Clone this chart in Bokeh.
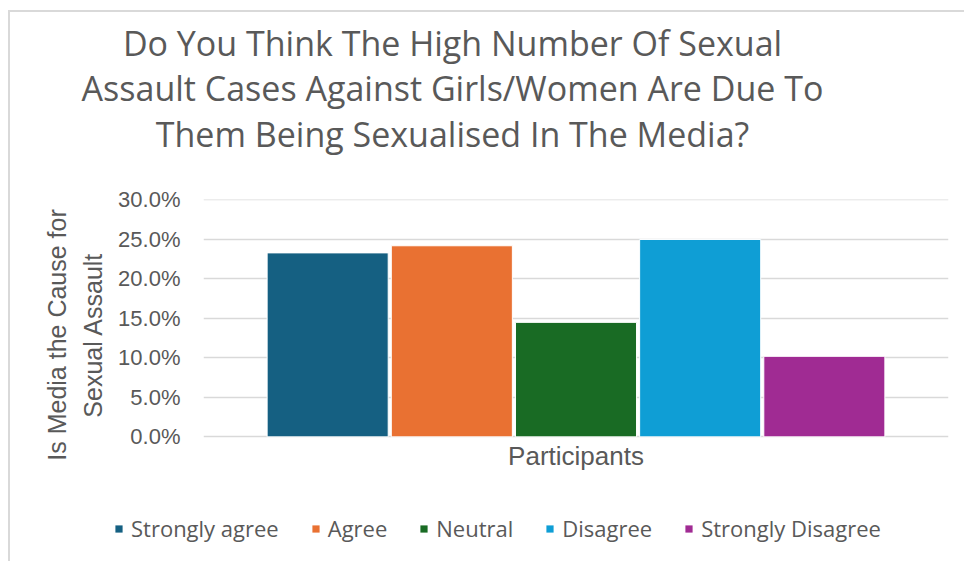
from bokeh.plotting import figure
from bokeh.models import (ColumnDataSource, FactorRange, Range1d, NumeralTickFormatter, Label,
                          Legend, LegendItem, FixedTicker)
from bokeh.embed import file_html
from bokeh.resources import INLINE

# ---- data ----
categories = ["Strongly agree", "Agree", "Neutral", "Disagree", "Strongly Disagree"]
values = [0.233, 0.242, 0.145, 0.250, 0.102]
colors = ["#156082", "#E97132", "#196B24", "#0F9ED5", "#A02B93"]
y_ticks = [0.0, 0.05, 0.10, 0.15, 0.20, 0.25, 0.30]
title_lines = ["Do You Think The High Number Of Sexual",
               "Assault Cases Against Girls/Women Are Due To",
               "Them Being Sexualised In The Media?"]
y_title = "Is Media the Cause for\nSexual Assault"
x_title = "Participants"

TEXT = "#595959"
GRID = "#d9d9d9"
BORDER = "2px solid #d9d9d9"
TITLE_FONT = "Open Sans"
AXIS_FONT = "Liberation Sans"

source = ColumnDataSource(dict(cat=categories, val=values, color=colors))


def blank(height):
    f = figure(width=956, height=height, x_range=(0, 1), y_range=(10, 11),
               x_axis_type=None, y_axis_type=None, output_backend="svg",
               toolbar_location=None, min_border=0)
    f.outline_line_color = None
    f.grid.grid_line_color = None
    return f


# ---- title block ----
t = blank(152)
t.styles = {"border-top": BORDER, "border-left": BORDER,
            "margin-left": "8px", "margin-top": "10px"}
for line, yb in zip(title_lines, [122, 76.3, 30.3]):
    t.add_layout(Label(x=442, y=yb, x_units="screen", y_units="screen", text=line,
                       text_align="center", text_baseline="alphabetic",
                       text_font=TITLE_FONT, text_font_size="34px", text_color=TEXT))

# ---- main chart ----
p = figure(width=956, height=328,
           x_range=FactorRange(*categories, range_padding=0.2),
           y_range=Range1d(-0.0426, 0.3006),
           output_backend="svg", toolbar_location=None,
           min_border_left=193, min_border_right=18,
           min_border_top=37, min_border_bottom=20)
p.styles = {"border-left": BORDER, "margin-left": "8px"}

r = p.vbar(x="cat", top="val", bottom=0, width=0.975, source=source,
           fill_color="color", line_color="white", line_width=1)

p.outline_line_color = None
p.xgrid.grid_line_color = None
p.ygrid.grid_line_color = GRID
p.ygrid.grid_line_width = 1.5
p.ygrid.ticker = FixedTicker(ticks=y_ticks)

p.yaxis.ticker = FixedTicker(ticks=y_ticks)
p.yaxis.formatter = NumeralTickFormatter(format="0.0%")
p.yaxis.axis_line_color = None
p.yaxis.major_tick_line_color = None
p.yaxis.major_tick_out = 0
p.yaxis.major_tick_in = 0
p.yaxis.minor_tick_line_color = None
p.yaxis.major_label_standoff = 23
p.yaxis.major_label_text_font = AXIS_FONT
p.yaxis.major_label_text_font_size = "22px"
p.yaxis.major_label_text_color = TEXT
p.yaxis.axis_label = y_title
p.yaxis.axis_label_standoff = 8
p.yaxis.axis_label_text_font = AXIS_FONT
p.yaxis.axis_label_text_font_size = "25px"
p.yaxis.axis_label_text_font_style = "normal"
p.yaxis.axis_label_text_color = TEXT
p.yaxis.axis_label_text_line_height = 1.28

p.xaxis.visible = False
p.add_layout(Label(x=372.5, y=15, x_units="screen", y_units="screen", text=x_title,
                   text_align="center", text_baseline="alphabetic",
                   text_font=AXIS_FONT, text_font_size="26px", text_color=TEXT))

# ---- legend block ----
lg = blank(71)
lg.styles = {"border-left": BORDER, "margin-left": "8px"}
r2 = lg.vbar(x=[0.5] * len(values), top=values, bottom=0, width=0.1, fill_color=colors,
             line_color=None)
legend = Legend(items=[LegendItem(label=c, renderers=[r2], index=i) for i, c in enumerate(categories)],
                orientation="horizontal", location=(104, 18),
                glyph_width=9, glyph_height=9, label_standoff=8, spacing=32,
                padding=0, margin=0, border_line_color=None, background_fill_alpha=0,
                label_text_font=TITLE_FONT, label_text_font_size="22px", label_text_color=TEXT,
                label_height=24)
lg.add_layout(legend)

open("out.html", "w").write(file_html([t, p, lg], INLINE))
